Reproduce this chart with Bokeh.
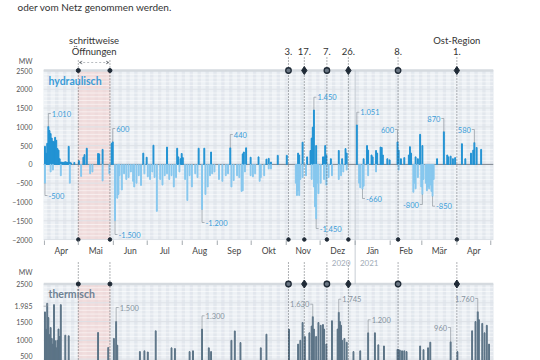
import pandas as pd
from bokeh.plotting import figure
from bokeh.models import FixedTicker, Arrow, VeeHead, Range1d
from bokeh.core.properties import value
from bokeh.embed import file_html
from bokeh.resources import INLINE

START = pd.Timestamp("2020-04-01")

# ---------------- data (day offset from 2020-04-01, MW) ----------------
hyd_up_day = [0, 1, 2, 3, 4, 5, 6, 7, 8, 9, 10, 11, 12, 13, 14, 15, 16, 17, 18, 19, 20, 21, 22, 23, 26, 30,
              34, 35, 37, 47, 48, 51, 59, 60, 87, 90, 96, 108, 117, 118, 120, 121, 122, 136, 141, 147, 164,
              175, 176, 178, 182, 189, 196, 198, 200, 206, 214, 224, 225, 228, 232, 235, 236, 237, 238, 240,
              246, 247, 248, 249, 253, 260, 263, 266, 267, 276, 282, 285, 286, 289, 290, 293, 294, 297, 298,
              299, 303, 305, 312, 313, 315, 318, 322, 323, 324, 328, 330, 332, 334, 347, 353, 356, 357, 359,
              361, 363, 369, 372, 377, 379, 380, 382, 386]
hyd_up_mw = [480, 300, 560, 1010, 900, 820, 700, 620, 600, 720, 640, 420, 380, 150, 60, 60, 50, 60, 70, 60, 50, 480, 60, 40, 50, 100,
             190, 260, 430, 290, 280, 400, 560, 600, 300, 190, 510, 460, 430, 200, 150, 290, 180, 430, 430, 330, 440,
             280, 330, 440, 190, 200, 140, 160, 60, 240, 240, 300, 250, 590, 200, 370, 700, 990, 1450, 500,
             200, 200, 500, 250, 150, 370, 150, 420, 300, 1051, 150, 500, 380, 250, 200, 370, 300, 460, 450,
             250, 150, 120, 600, 380, 150, 180, 250, 470, 300, 200, 150, 800, 500, 150, 870, 250, 200, 220,
             150, 180, 550, 150, 300, 380, 580, 450, 400]

hyd_dn_day = [0, 5, 7, 14, 22, 32, 40, 42, 51, 57, 62, 64, 65, 66, 68, 70, 72, 74, 76, 78, 79, 81, 83, 85, 88,
              91, 93, 95, 97, 99, 102, 104, 106, 108, 110, 112, 114, 116, 119, 124, 126, 128, 130, 133, 135,
              139, 142, 144, 146, 148, 150, 154, 157, 160, 162, 165, 167, 170, 172, 174, 175, 177, 182, 184,
              186, 190, 191, 194, 198, 200, 222, 223, 224, 225, 226, 228, 231, 236, 238, 239, 240, 241, 242,
              244, 247, 249, 251, 254, 260, 262, 264, 267, 278, 279, 281, 282, 286, 293, 313, 326, 327, 328,
              330, 333, 334, 335, 337, 338, 339, 340, 341, 342, 343, 344]
hyd_dn_mw = [-500, -200, -150, -300, -500, -320, -250, -200, -440, -250, -1500, -900, -800, -300, -680, -250, -400, -350, -200, -450, -600, -500, -300, -560, -250,
             -330, -400, -200, -350, -1250, -400, -550, -300, -250, -400, -300, -600, -350, -200, -400, -960, -300, -600, -250, -350,
             -1200, -800, -600, -300, -250, -200, -400, -450, -300, -250, -600, -430, -300, -350, -720, -700, -200, -300, -330,
             -250, -450, -350, -300, -120, -120, -500, -830, -700, -830, -400, -350, -300, -400, -600, -1130, -1450, -500, -780,
             -500, -400, -550, -350, -300, -400, -300, -200, -150, -500, -620, -660, -580, -300, -200, -150, -740, -500, -650,
             -350, -600, -800, -400, -500, -700, -600, -650, -550, -720, -850, -400]

th_day = [0, 1, 2, 3, 4, 5, 6, 7, 8, 9, 10, 11, 12, 13, 14, 18, 21, 47, 56, 61, 63, 64, 84, 88, 91, 98, 112, 115,
          128, 131, 139, 145, 147, 165, 168, 173, 191, 196, 216, 224, 226, 228, 230, 234, 236, 237, 238, 240,
          242, 244, 246, 247, 249, 254, 259, 260, 261, 262, 263, 265, 267, 273, 279, 286, 292, 295, 300, 312,
          313, 314, 316, 318, 320, 332, 335, 339, 341, 359, 365, 378, 381, 383, 384, 387, 389, 391, 393]
th_mw = [1757, 1296, 1985, 1606, 1150, 1340, 1050, 900, 1950, 990, 800, 1000, 1300, 1100, 1950, 1137, 1120, 1208, 810, 1050, 1500, 870, 700, 720, 690, 1253, 800, 780,
         700, 720, 1300, 800, 700, 1000, 1250, 940, 800, 1163, 1296, 900, 1000, 1474, 1100, 1200, 1380, 1630, 1300, 1100,
         1474, 1400, 1420, 1300, 900, 1520, 1300, 1745, 1500, 1400, 1000, 1050, 950, 700, 720, 1200, 1200, 880, 850, 760,
         750, 740, 720, 720, 700, 850, 750, 800, 950, 960, 700, 1253, 1500, 1760, 1550, 1450, 1200, 1400, 900]

hyd_note_day = [3, 0, 60, 62, 164, 139, 238, 240, 276, 281, 312, 334, 343, 353, 380]
hyd_note_mw = [1010, -500, 600, -1500, 440, -1200, 1450, -1450, 1051, -660, 600, -800, -850, 870, 580]
hyd_note_text = ["1.010", "-500", "600", "-1.500", "440", "-1.200", "1.450", "-1.450", "1.051", "-660",
                 "600", "-800", "-850", "870", "580"]

th_note_day = [2, 63, 139, 237, 260, 286, 359, 383]
th_note_mw = [1985, 1500, 1300, 1630, 1745, 1200, 960, 1760]
th_note_text = ["1.985", "1.500", "1.300", "1.630", "1.745", "1.200", "960", "1.760"]

month_labels = ["Apr", "Mai", "Jun", "Jul", "Aug", "Sep", "Okt", "Nov", "Dez", "Jän", "Feb", "Mär", "Apr"]
year_labels = ["2020", "2021"]
y_ticks_top = [-2000, -1500, -1000, -500, 0, 500, 1000, 1500, 2000, 2500]
y_ticks_bot = [500, 1000, 1500, 2500]
unit_text = "MW"
intro_text = "oder vom Netz genommen werden."

open_dates = ["2020-05-01", "2020-05-29"]
open_text = ["schrittweise", "Öffnungen"]
event_dates = ["2020-11-03", "2020-11-17", "2020-12-07", "2020-12-26", "2021-02-08", "2021-04-01"]
event_text = ["3.", "17.", "7.", "26.", "8.", "1."]
event_kind = ["circle", "diamond", "circle", "diamond", "circle", "diamond"]
event_top_text = ["", "", "", "", "", "Ost-Region"]

# ---------------- geometry / style ----------------
FONT = "Lato"
W, H = 540, 360
FL, FR, FT = 43, 493, 14      # frame left / right / top (px)
PXD = 1.13                    # px per day
K = 0.03756                   # px per MW (both panels)
TOP2500, BOT2500 = 70.0, 283.5  # px rows of the 2500 MW lines
BLUE_UP = "#2192d3"
BLUE_DN = "#86c7ee"
BLUE_TXT = "#3a9cd8"
TH_BAR = "#5b7386"
TH_TXT = "#8693a0"
BG = "#edf1f5"
BG_WE = "#e2e7ed"
PINK = "#f1d6d4"
DARK = "#1f2a36"
LINE = "#3a4048"
DASH = "1 2"


def YT(px):   # pixel row -> MW in the hydro panel
    return 2500 - (px - TOP2500) / K


def YB(px):   # pixel row -> MW in the thermal panel
    return 2500 - (px - BOT2500) / K


def day(s):
    return (pd.Timestamp(s) - START).days


X0 = -(43.9 - FL) / PXD
X1 = X0 + (FR - FL) / PXD
starts = [(d - START).days for d in pd.date_range("2020-04-01", "2021-05-01", freq="MS")]
mids = [starts[i] + (starts[i + 1] - starts[i]) / 2 for i in range(len(starts) - 1)]
open_days = [day(s) for s in open_dates]
event_days = [day(s) for s in event_dates]
line_days = open_days + event_days
jan1 = day("2021-01-01")
all_days = pd.date_range(START, periods=int(X1) + 1, freq="D")
weekend = [i for i, d in enumerate(all_days) if d.weekday() >= 5]

p = figure(width=W, height=H, x_range=Range1d(X0, X1), y_range=Range1d(YT(H), YT(FT)),
           output_backend="svg", toolbar_location=None, x_axis_location=None,
           min_border_left=FL, min_border_right=W - FR, min_border_top=FT, min_border_bottom=0,
           title=intro_text)
p.extra_y_ranges = {"th": Range1d(YB(H), YB(FT))}
p.outline_line_color = None
p.grid.visible = False
p.title.text_font = FONT
p.title.text_font_size = "10px"
p.title.text_font_style = "normal"
p.title.text_color = "#333"
p.title.align = "left"
p.title.vertical_align = "top"
p.title.offset = -26
p.title.standoff = 0


def panel(lo, hi, rn):
    kw = dict(y_range_name=rn)
    p.quad(left=X0, right=X1, bottom=lo, top=hi, color=BG, **kw)
    p.quad(left=weekend, right=[w + 1 for w in weekend], bottom=lo, top=hi, color=BG_WE, **kw)
    p.quad(left=open_days[0], right=open_days[1], bottom=lo, top=hi, color=PINK, alpha=0.75, **kw)
    minor = list(range(lo, hi + 1, 100))
    p.segment(x0=X0, x1=X1, y0=minor, y1=minor, line_color="white", line_width=0.6, alpha=0.9, **kw)
    major = list(range(lo, hi + 1, 500))
    p.segment(x0=X0, x1=X1, y0=major, y1=major, line_color="#d2d8df", line_width=0.7, **kw)
    p.segment(x0=X0, x1=X1, y0=hi, y1=hi, line_color="#d5dadf", line_width=2.5, **kw)


def notes(days, mws, texts, lab_px, sides, color, conv, rn):
    h = 2.5 / PXD
    t = 3.5 / PXD
    for d, m, txt, lp, sd in zip(days, mws, texts, lab_px, sides):
        lm = conv(lp)
        bx = d + 0.5
        sgn = 1 if sd == "r" else -1
        p.segment(x0=[bx, bx], y0=[m, lm], x1=[bx, bx + sgn * h], y1=[lm, lm],
                  line_color="#8f969d", line_width=0.7, y_range_name=rn)
        p.text(x=[bx + sgn * t], y=[lm], text=[txt], text_font=value(FONT), text_font_size="7.5px",
               text_color=color, text_baseline="middle", text_align="left" if sd == "r" else "right",
               y_range_name=rn)


def top_markers(yv, rn):
    p.scatter(x=open_days, y=[yv] * 2, marker="circle", size=4, color=DARK, y_range_name=rn)
    cd = [d for d, k in zip(event_days, event_kind) if k == "circle"]
    dd = [d for d, k in zip(event_days, event_kind) if k == "diamond"]
    p.scatter(x=cd, y=[yv] * len(cd), marker="circle", size=5.5, fill_color="#6a7683",
              line_color=DARK, line_width=1.3, y_range_name=rn)
    p.scatter(x=dd, y=[yv] * len(dd), marker="diamond", size=8, color=DARK, y_range_name=rn)


# ---------------- panels ----------------
panel(-2000, 2500, "default")
panel(0, 2500, "th")
p.segment(x0=jan1, x1=jan1, y0=2500, y1=YT(BOT2500), line_color="#b8c0c8", line_width=0.8)
p.segment(x0=X0, x1=X1, y0=0, y1=0, line_color="#7f8891", line_width=1)
p.vbar(x=[d + 0.5 for d in hyd_up_day], top=hyd_up_mw, bottom=0, width=0.8, color=BLUE_UP)
p.vbar(x=[d + 0.5 for d in hyd_dn_day], top=0, bottom=hyd_dn_mw, width=0.8, color=BLUE_DN)
p.vbar(x=[d + 0.5 for d in th_day], top=th_mw, bottom=0, width=0.8, color=TH_BAR, y_range_name="th")

# event / opening lines
p.segment(x0=open_days, x1=open_days, y0=YT(60), y1=-2000, line_color=LINE, line_width=0.8, line_dash=DASH)
p.segment(x0=event_days, x1=event_days, y0=YT(57), y1=-2000, line_color=LINE, line_width=0.8, line_dash=DASH)
p.segment(x0=line_days, x1=line_days, y0=YT(262), y1=YT(H), line_color=LINE, line_width=0.8, line_dash=DASH)
p.add_layout(Arrow(start=VeeHead(size=3, line_color="#8a9097", line_width=0.6),
                   end=VeeHead(size=3, line_color="#8a9097", line_width=0.6),
                   x_start=open_days[0] + 0.8, x_end=open_days[1] - 0.8,
                   y_start=YT(62), y_end=YT(62),
                   line_color="#8a9097", line_width=0.6, line_dash="2 2"))
mid_open = (open_days[0] + open_days[1]) / 2
p.text(x=[mid_open, mid_open], y=[YT(40), YT(51)], text=open_text, text_font=value(FONT),
       text_font_size="9.5px", text_color="#333", text_align="center", text_baseline="middle")
p.text(x=event_days, y=[YT(51)] * len(event_days), text=event_text, text_font=value(FONT),
       text_font_size="9.5px", text_color="#333", text_align="center", text_baseline="middle")
p.text(x=event_days, y=[YT(40)] * len(event_days), text=event_top_text, text_font=value(FONT),
       text_font_size="9.5px", text_color="#333", text_align="center", text_baseline="middle")

top_markers(2500, "default")
top_markers(2500, "th")
p.scatter(x=line_days, y=[-2000] * len(line_days), marker="circle", size=3.5, color=DARK)

p.text(x=[(48 - 43.9) / PXD], y=[YT(80)], text=["hydraulisch"], text_font=value(FONT),
       text_font_size="10.5px", text_font_style="bold", text_color=BLUE_TXT, text_baseline="middle")
p.text(x=[(48 - 43.9) / PXD], y=[YB(293)], text=["thermisch"], text_font=value(FONT),
       text_font_size="10.5px", text_font_style="bold", text_color="#6f8294", text_baseline="middle",
       y_range_name="th")

hyd_lab_px = [113, 195, 128, 234, 134, 222, 96.7, 228, 111.7, 198, 129, 204, 205.7, 118, 129]
hyd_side = ["r", "r", "r", "r", "r", "r", "r", "r", "r", "r", "l", "l", "r", "l", "l"]
notes(hyd_note_day, hyd_note_mw, hyd_note_text, hyd_lab_px, hyd_side, BLUE_TXT, YT, "default")
th_lab_px = [305.7, 307, 315.3, 303.7, 298.7, 319.3, 327, 298]
th_side = ["l", "r", "r", "l", "r", "r", "l", "l"]
notes(th_note_day[1:], th_note_mw[1:], th_note_text[1:], th_lab_px[1:], th_side[1:], TH_TXT, YB, "th")
# first thermal note sits left of the panel: leader here, its text on the axis below
d0 = th_note_day[0] + 0.5
p.segment(x0=[d0, d0], y0=[th_note_mw[0], YB(th_lab_px[0])], x1=[d0, d0 - 4 / PXD],
          y1=[YB(th_lab_px[0]), YB(th_lab_px[0])], line_color="#8f969d", line_width=0.7, y_range_name="th")

# month axis (between the panels)
p.text(x=mids, y=[YT(250)] * len(mids), text=month_labels, text_font=value(FONT), text_font_size="8.5px",
       text_color="#444", text_align="center", text_baseline="middle")
p.segment(x0=starts, x1=starts, y0=YT(240), y1=YT(244.5), line_color="#8d949b", line_width=0.8)
p.text(x=[jan1 - 4.2], y=[YT(262.3)], text=[year_labels[0]], text_font=value(FONT),
       text_font_size="8px", text_color="#a1acb7", text_align="right", text_baseline="middle")
p.text(x=[jan1 + 4.2], y=[YT(262.3)], text=[year_labels[1]], text_font=value(FONT),
       text_font_size="8px", text_color="#a1acb7", text_align="left", text_baseline="middle")


# y axis: hydro ticks, thermal ticks (mapped onto the same axis), unit labels
def th_to_top(v):
    # lowest thermal label is lifted slightly so that it stays inside the picture
    return round(YT(min(BOT2500 + (2500 - v) * K, H - 4.5)))


ticks = list(y_ticks_top)
over = {}
for v in y_ticks_bot:
    t = th_to_top(v)
    ticks.append(t)
    over[t] = str(v)
t_note = round(YT(th_lab_px[0]))
ticks.append(t_note)
over[t_note] = th_note_text[0]
for px in (60, 272):
    t = round(YT(px))
    ticks.append(t)
    over[t] = unit_text
p.yaxis.ticker = FixedTicker(ticks=ticks)
p.yaxis.major_label_overrides = over
p.yaxis.axis_line_color = None
p.yaxis.major_tick_line_color = None
p.yaxis.minor_tick_line_color = None
p.yaxis.major_label_standoff = 5
p.yaxis.major_label_text_font = FONT
p.yaxis.major_label_text_font_size = "7px"
p.yaxis.major_label_text_color = "#555"

open("out.html", "w").write(file_html(p, INLINE))
